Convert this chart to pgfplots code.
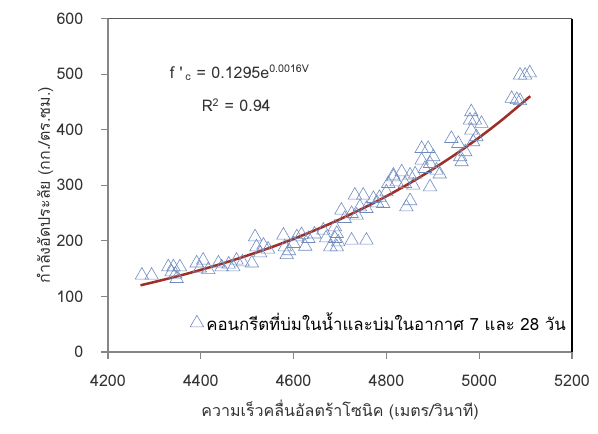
\documentclass[border=0pt]{standalone}
\usepackage{fontspec}
\setmainfont{Loma}[Script=Thai]
\usepackage{pgfplots}
\pgfplotsset{compat=1.18}
\definecolor{markblue}{RGB}{112,140,190}
\definecolor{trendred}{RGB}{158,46,40}
\definecolor{axgray}{RGB}{134,134,134}
\definecolor{axdark}{RGB}{89,89,89}
\definecolor{txt}{RGB}{50,50,50}
\begin{document}
\begin{tikzpicture}
\useasboundingbox (-81pt,-60.75pt) rectangle (367.5pt,264pt);
\begin{axis}[
  at={(0,0)}, anchor=south west,
  scale only axis, width=348pt, height=250.1pt,
  xmin=4200, xmax=5200, ymin=0, ymax=600,
  xtick={4200,4400,...,5200}, ytick={0,100,...,600},
  axis line style={draw=none},
  clip=false,
  tick align=outside, xtick pos=left, ytick pos=left,
  major tick length=5pt,
  tick style={axgray, line width=0.9pt},
  /pgf/number format/1000 sep={},
  /pgf/number format/assume math mode=true,
  every tick label/.append style={font=\fontsize{12}{14}\selectfont, text=txt},
  yticklabel style={xshift=-10pt},
  xticklabel style={yshift=-9pt},
  xlabel={ความเร็วคลื่นอัลตร้าโซนิค (เมตร/วินาที)},
  ylabel={กำลังอัดประลัย (กก./ตร.ซม.)},
  label style={font=\fontsize{12}{14}\selectfont, text=txt},
  xlabel style={at={(axis description cs:0.5,-0.174)}, anchor=center},
  ylabel style={at={(axis description cs:-0.1358,0.5)}, anchor=center},
  legend style={at={(axis description cs:0.168,0.087)}, anchor=west, draw=none, fill=none,
    font=\fontsize{12.6}{14}\selectfont, legend cell align=left},
]
\addplot[only marks, mark=triangle, mark size=5.8pt, mark options={draw=markblue, line width=0.45pt, fill=none}] coordinates {
(4273,138) (4294,138) (4330,153) (4341,153) (4355,153) (4337,144) (4348,132) (4345,140)
(4391,160) (4405,165) (4398,151) (4416,148) (4438,160) (4445,153) (4460,158) (4470,153)
(4477,165) (4490,162) (4510,160) (4517,207) (4520,189) (4528,178) (4535,192) (4545,185)
(4578,210) (4581,189) (4590,182) (4585,175) (4600,195) (4607,207) (4617,211) (4625,190)
(4632,204) (4645,212) (4664,219) (4670,205) (4679,189) (4689,225) (4689,204) (4693,189)
(4693,213) (4696,198) (4703,255) (4710,240) (4725,249) (4725,201) (4736,246) (4757,201)
(4732,282) (4750,282) (4743,261) (4757,258) (4772,276) (4785,278) (4780,268) (4800,288)
(4793,267) (4804,303) (4815,315) (4815,318) (4822,306) (4833,324) (4840,303) (4843,261)
(4851,272) (4851,318) (4858,300) (4862,320) (4876,366) (4890,366) (4876,345) (4883,330)
(4894,339) (4894,297) (4901,351) (4908,327) (4915,320) (4940,384) (4955,375) (4959,351)
(4962,342) (4970,360) (4980,417) (4983,432) (4991,417) (5005,411) (4983,399) (4994,387)
(4987,378) (5070,456) (5081,454) (5088,452) (5088,498) (5099,498) (5109,502)
};
\addlegendentry{คอนกรีตที่บ่มในน้ำและบ่มในอากาศ 7 และ 28 วัน}
\addplot[trendred, line width=1.9pt, smooth, forget plot] coordinates {
(4270,120.0) (4300,126.0) (4350,136.4) (4400,147.8) (4450,160.1) (4500,173.5)
(4550,187.9) (4600,203.5) (4650,220.5) (4700,238.9) (4750,258.8) (4800,280.3)
(4850,303.7) (4900,329.0) (4950,356.4) (5000,386.0) (5050,418.2) (5110,460.3)
};
\draw[axgray, line width=0.9pt] (rel axis cs:0,0) -- (rel axis cs:0,1);
\draw[axgray, line width=0.9pt] (rel axis cs:0,0) -- (rel axis cs:1,0);
\draw[axdark, line width=0.9pt] (rel axis cs:0,1) -- (rel axis cs:1,1);
\draw[black, line width=0.9pt] (rel axis cs:1,0) -- (rel axis cs:1,1);
\node[anchor=west, font=\fontsize{12}{14}\selectfont, text=txt] at (axis cs:4323,502)
  {f \textquotesingle\,\textsubscript{c} = 0.1295e\textsuperscript{0.0016V}};
\node[anchor=west, font=\fontsize{12}{14}\selectfont, text=txt] at (axis cs:4392,444)
  {R\textsuperscript{2} = 0.94};
\end{axis}
\end{tikzpicture}
\end{document}
